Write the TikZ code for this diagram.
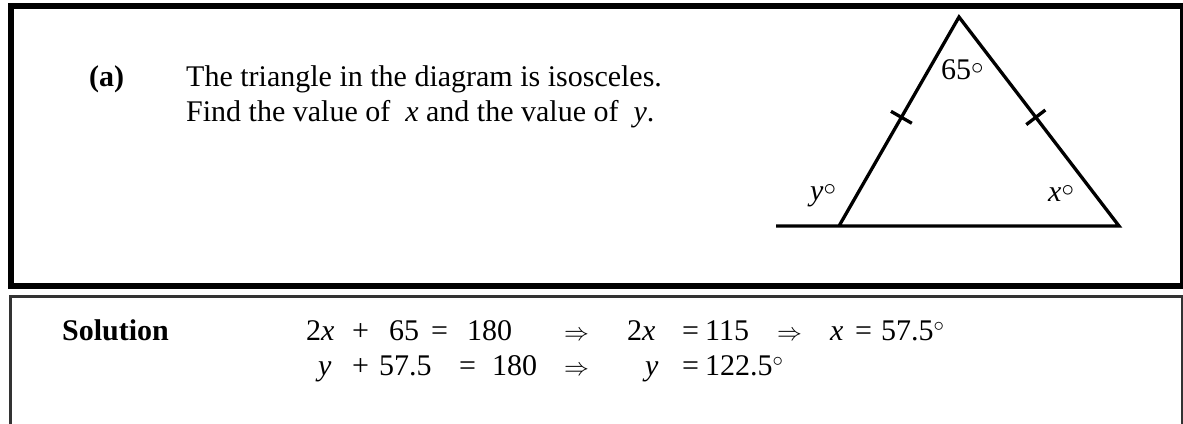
\documentclass[tikz,border=0pt]{standalone}
\usepackage{fontspec}
\setmainfont{Liberation Serif}
\usetikzlibrary{calc}

\newcommand{\dg}{\raisebox{5pt}{$\circ$}}

\begin{document}
\begin{tikzpicture}[
    x=1pt,
    y=1pt,
    font=\fontsize{30}{36}\selectfont,
    qframe/.style={
      line width=6pt,
      draw=black
    },
    solframe/.style={
      line width=2.5pt,
      draw=black!80
    },
    side/.style={
      line width=3.3pt,
      line join=miter
    },
    txt/.style={
      anchor=base west,
      inner sep=0pt
    }
  ]

  \useasboundingbox (0,0) rectangle (1183,423);

  % Opgaveramme
  \draw[qframe] (10.7,417) rectangle (1183,137);

  % Losningsramme, aaben forneden
  \draw[solframe] (10.5,-5) -- (10.5,126.5) -- (1182,126.5) -- (1182,-5);

  % Trekant
  \coordinate (top) at (959,406);
  \coordinate (left) at (839,197);
  \coordinate (right) at (1119,197);
  \coordinate (ext) at (776,197);
  \draw[side] (ext) -- (right) -- (top) -- (left);

  \foreach \p in {left,right} {
    \draw[side]
      ($(\p)!0.52!(top)!12pt!90:(top)$) -- ($(\p)!0.52!(top)!12pt!-90:(top)$);
  }

  \node[txt] (ang65) at (941,343.7) {65\dg};
  \node[txt] (angy) at (810,222) {\textit{y}\dg};
  \node[txt] (angx) at (1048,221.3) {\textit{x}\dg};

  % Opgavetekst
  \node[txt] (parta) at (89,336) {\bfseries (a)};
  \node[txt] (qline1) at (186,336) {The triangle in the diagram is isosceles.};
  \node[txt] (qline2) at (186,301) {Find the value of \ \textit{x} and the value of \ \textit{y}.};

  % Losning
  \node[txt] (sol) at (62,82.5) {\bfseries Solution};

  \foreach \px/\tok [count=\i] in {306/2\textit{x}, 352/+, 389/65, 431/=, 467/180,
      564/$\Rightarrow$, 627/2\textit{x}, 682/=, 705/115, 777/$\Rightarrow$,
      830/\textit{x}, 855/=, 881/57.5$^\circ$} {
    \node[txt] (eqa\i) at (\px,82.5) {\tok};
  }

  \foreach \px/\tok [count=\i] in {318/\textit{y}, 352/+, 379/57.5, 459/=, 492/180,
      564/$\Rightarrow$, 645/\textit{y}, 682/=, 705/122.5$^\circ$} {
    \node[txt] (eqb\i) at (\px,47) {\tok};
  }

\end{tikzpicture}
\end{document}
